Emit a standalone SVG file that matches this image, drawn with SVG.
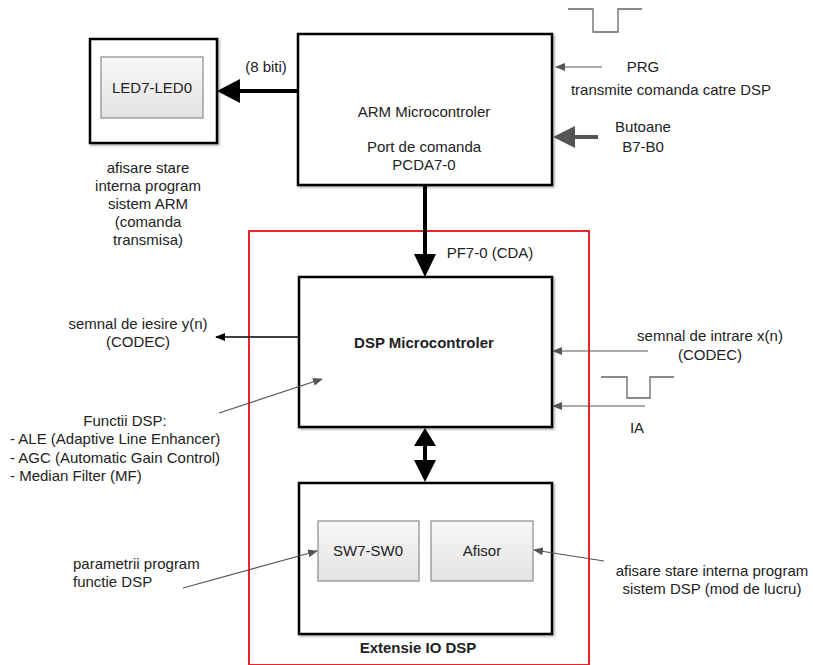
<svg xmlns="http://www.w3.org/2000/svg" width="813" height="665" viewBox="0 0 813 665">
<defs>
<style>
text{font-family:"Liberation Sans",Arial,sans-serif;font-size:15px;fill:#222;}
.c{text-anchor:middle;}
.b{font-weight:bold;}
.box{fill:#fff;stroke:#000;stroke-width:2.5;}
.inner{fill:url(#g);stroke:#8a8a8a;stroke-width:1.2;}
.thin{stroke:#555;stroke-width:1.2;fill:none;}
.thick{stroke:#000;stroke-width:4;fill:none;}
.pulse{stroke:#666;stroke-width:1.3;fill:none;}
</style>
<linearGradient id="g" x1="0" y1="0" x2="0" y2="1">
<stop offset="0" stop-color="#f7f7f7"/>
<stop offset="1" stop-color="#e3e3e3"/>
</linearGradient>
<filter id="sh" x="-5%" y="-5%" width="115%" height="115%">
<feDropShadow dx="1.5" dy="1.5" stdDeviation="1" flood-color="#000" flood-opacity="0.3"/>
</filter>
<marker id="ag" markerWidth="10" markerHeight="8" refX="9" refY="4" orient="auto" markerUnits="userSpaceOnUse">
<path d="M0,0 L10,4 L0,8 Z" fill="#555"/>
</marker>
<marker id="ak" markerWidth="10" markerHeight="8" refX="9" refY="4" orient="auto" markerUnits="userSpaceOnUse">
<path d="M0,0 L10,4 L0,8 Z" fill="#000"/>
</marker>
</defs>

<rect id="ext-border" x="249" y="231" width="340" height="434" fill="none" stroke="#e8232a" stroke-width="2"/>

<g id="led">
<rect class="box" x="90" y="39" width="127" height="104" filter="url(#sh)"/>
<rect class="inner" x="101" y="57" width="102" height="61"/>
<text class="c" x="152" y="93">LED7-LED0</text>
</g>
<g id="led-label">
<text class="c" x="148" y="173">afisare stare</text>
<text class="c" x="148" y="191">interna program</text>
<text class="c" x="148" y="209">sistem ARM</text>
<text class="c" x="148" y="227">(comanda</text>
<text class="c" x="148" y="245">transmisa)</text>
</g>

<g id="arm">
<rect class="box" x="298" y="34" width="254" height="151" filter="url(#sh)"/>
<text class="c" x="424" y="117">ARM Microcontroler</text>
<text class="c" x="424" y="152">Port de comanda</text>
<text class="c" x="424" y="170">PCDA7-0</text>
</g>

<g id="dsp">
<rect class="box" x="299" y="277" width="253" height="150" filter="url(#sh)"/>
<text class="c b" x="424" y="348">DSP Microcontroler</text>
</g>

<g id="io">
<rect class="box" x="299" y="483" width="253" height="151" filter="url(#sh)"/>
<text class="c b" x="418" y="653">Extensie IO DSP</text>
</g>
<g id="sw">
<rect class="inner" x="318" y="521" width="101" height="60"/>
<text class="c" x="368" y="556">SW7-SW0</text>
</g>
<g id="afisor">
<rect class="inner" x="431" y="521" width="102" height="60"/>
<text class="c" x="482" y="556">Afisor</text>
</g>

<g id="labels">
<text class="c" x="266" y="72">(8 biti)</text>
<text class="c" x="643" y="72">PRG</text>
<text class="c" x="671" y="95">transmite comanda catre DSP</text>
<text class="c" x="643" y="132">Butoane</text>
<text class="c" x="643" y="152">B7-B0</text>
<text class="c" x="490" y="258">PF7-0 (CDA)</text>
<text class="c" x="138" y="329">semnal de iesire y(n)</text>
<text class="c" x="138" y="347">(CODEC)</text>
<text class="c" x="710" y="341">semnal de intrare x(n)</text>
<text class="c" x="710" y="360">(CODEC)</text>
<text class="c" x="637" y="433">IA</text>
<text class="c" x="125" y="426">Functii DSP:</text>
<text x="10" y="444">- ALE (Adaptive Line Enhancer)</text>
<text x="10" y="463">- AGC (Automatic Gain Control)</text>
<text x="10" y="481">- Median Filter (MF)</text>
<text x="73" y="569">parametrii program</text>
<text x="73" y="587">functie DSP</text>
<text class="c" x="712" y="576">afisare stare interna program</text>
<text class="c" x="712" y="594">sistem DSP (mod de lucru)</text>
</g>

<g id="pulses">
<path class="pulse" d="M568,9 H593 V32 H618 V9 H642"/>
<path class="pulse" d="M601,377 H627 V398 H650 V377 H674"/>
</g>

<g id="connectors">
<line class="thick" x1="298" y1="91" x2="238" y2="91"/>
<path d="M217,91 L240,79 L240,103 Z" fill="#000"/>
<line class="thick" x1="425" y1="185" x2="425" y2="256"/>
<path d="M425,277 L414,254 L436,254 Z" fill="#000"/>
<line class="thick" x1="425" y1="443" x2="425" y2="462"/>
<path d="M425,428 L414,446 L436,446 Z" fill="#000"/>
<path d="M425,482 L414,460 L436,460 Z" fill="#000"/>
<line stroke="#555" stroke-width="4" x1="598" y1="137" x2="572" y2="137"/>
<path d="M553,137 L575,126 L575,148 Z" fill="#555"/>
<line class="thin" x1="602" y1="67" x2="556" y2="67" marker-end="url(#ag)"/>
<line stroke="#000" stroke-width="1.3" x1="299" y1="337" x2="216" y2="337" marker-end="url(#ak)"/>
<line class="thin" x1="648" y1="351" x2="553" y2="351" marker-end="url(#ag)"/>
<line class="thin" x1="645" y1="406" x2="553" y2="406" marker-end="url(#ag)"/>
<line class="thin" x1="219" y1="413" x2="322" y2="379" marker-end="url(#ag)"/>
<line class="thin" x1="183" y1="588" x2="317" y2="551" marker-end="url(#ag)"/>
<line class="thin" x1="604" y1="561" x2="534" y2="550" marker-end="url(#ag)"/>
</g>
</svg>
